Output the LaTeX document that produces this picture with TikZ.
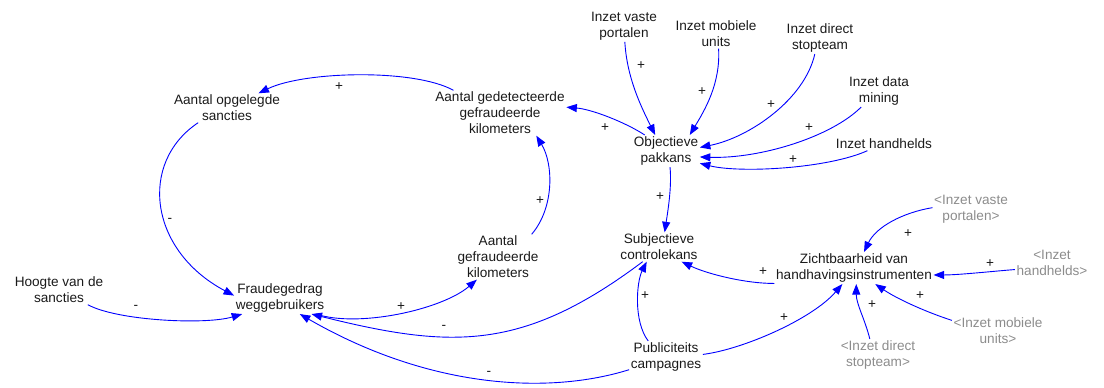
\documentclass[tikz,border=0pt]{standalone}
\usepackage{fontspec}
\setmainfont{Liberation Sans}
\usetikzlibrary{arrows.meta}
\definecolor{txt}{HTML}{1A1A1A}
\definecolor{shadow}{HTML}{8C8C8C}
\definecolor{link}{HTML}{0000FF}
\begin{document}
\begin{tikzpicture}[x=1pt,y=-1pt,
  var/.style={align=center,inner sep=1.5pt,text=txt,font=\fontsize{13.6}{16}\selectfont},
  ghost/.style={var,text=shadow},
  pol/.style={inner sep=0pt,text=txt,font=\fontsize{13.6}{16}\selectfont},
  link/.style={draw=link,line width=0.9pt,-{Triangle[length=10.5pt,width=8pt]}}]
\useasboundingbox (0,0) rectangle (1104,388);

% variables
\node[var] (opg)    at (227,108) {Aantal opgelegde\\sancties};
\node[var] (gedet)  at (500,113) {Aantal gedetecteerde\\gefraudeerde\\kilometers};
\node[var] (obj)    at (666,151) {Objectieve\\pakkans};
\node[var] (vaste)  at (624,26)  {Inzet vaste\\portalen};
\node[var] (mob)    at (716,34)  {Inzet mobiele\\units};
\node[var] (direct) at (820,38)  {Inzet direct\\stopteam};
\node[var] (data)   at (879,91)  {Inzet data\\mining};
\node[var] (hand)   at (884,144) {Inzet handhelds};
\node[var] (subj)   at (659,247) {Subjectieve\\controlekans};
\node[var] (zicht)  at (854,268) {Zichtbaarheid van\\handhavingsinstrumenten};
\node[var] (publ)   at (666,357) {Publiciteits\\campagnes};
\node[var] (fraud)  at (280,298) {Fraudegedrag\\weggebruikers};
\node[var] (hoogte) at (59,290)  {Hoogte van de\\sancties};
\node[var] (gefr)   at (498,257) {Aantal\\gefraudeerde\\kilometers};

% shadow variables
\node[ghost] (gvaste)  at (971,209)  {<Inzet vaste\\portalen>};
\node[ghost] (ghand)   at (1052,263) {<Inzet\\handhelds>};
\node[ghost] (gmob)    at (998,331)  {<Inzet mobiele\\units>};
\node[ghost] (gdirect) at (878,355)  {<Inzet direct\\stopteam>};

% causal links
\draw[link] (gedet.154) .. controls +(-40,-22) and +(45,-22) .. (opg.25);
\draw[link] (opg.207) .. controls +(-60,40) and +(-85,-45) .. (fraud.177);
\draw[link] (hoogte.-27) .. controls +(29,16) and +(-37,11) .. (fraud.203);
\draw[link] (fraud.-24) .. controls +(42,14) and +(-35,30) .. (gefr.227);
\draw[link] (gefr.34) .. controls +(23,-27) and +(17,28) .. (gedet.-32);
\draw[link] (obj.143) .. controls +(-20,-13) and +(25,2) .. (gedet.5);
\draw[link] (vaste.-87) .. controls +(2,35) and +(-15,-30) .. (obj.124);
\draw[link] (mob.-80) .. controls +(2,35) and +(15,-25) .. (obj.34);
\draw[link] (direct.252) .. controls +(-10,45) and +(50,-10) .. (obj.6);
\draw[link] (data.222) .. controls +(-30,30) and +(60,2) .. (obj.-10);
\draw[link] (hand.202) .. controls +(-40,18) and +(40,10) .. (obj.-20);
\draw[link] (obj.-76) .. controls +(2,20) and +(3,-20) .. (subj.69);
\draw[link] (zicht.191) .. controls +(-30,0) and +(25,12) .. (subj.-33);
\draw[link] (publ.138) .. controls +(-15,-20) and +(-10,20) .. (subj.230);
\draw[link] (subj.222) .. controls +(-120,90) and +(140,35) .. (fraud.-27);
\draw[link] (publ.199) .. controls +(-80,25) and +(130,75) .. (fraud.-39);
\draw[link] (publ.4) .. controls +(40,-5) and +(-30,35) .. (zicht.234);
\draw[link] (gvaste.178) .. controls +(-30,5) and +(12,-25) .. (zicht.58);
\draw[link] (ghand.190) .. controls +(-25,2) and +(25,0) .. (zicht.-5);
\draw[link] (gmob.167) .. controls +(-25,-8) and +(22,15) .. (zicht.-37);
\draw[link] (gdirect.117) .. controls +(-5,-20) and +(0,20) .. (zicht.-82);

% link polarities
\node[pol] (p1)  at (339,87)  {+};
\node[pol] (p2)  at (170,220) {-};
\node[pol] (p3)  at (136,307) {-};
\node[pol] (p4)  at (401,307) {+};
\node[pol] (p5)  at (540,201) {+};
\node[pol] (p6)  at (605,128) {+};
\node[pol] (p7)  at (641,66)  {+};
\node[pol] (p8)  at (702,92)  {+};
\node[pol] (p9)  at (771,105) {+};
\node[pol] (p10) at (809,128) {+};
\node[pol] (p11) at (793,160) {+};
\node[pol] (p12) at (660,197) {+};
\node[pol] (p13) at (763,272) {+};
\node[pol] (p14) at (645,296) {+};
\node[pol] (p15) at (444,327) {-};
\node[pol] (p16) at (489,373) {-};
\node[pol] (p17) at (784,318) {+};
\node[pol] (p18) at (908,234) {+};
\node[pol] (p19) at (990,264) {+};
\node[pol] (p20) at (920,296) {+};
\node[pol] (p21) at (872,305) {+};
\end{tikzpicture}
\end{document}
